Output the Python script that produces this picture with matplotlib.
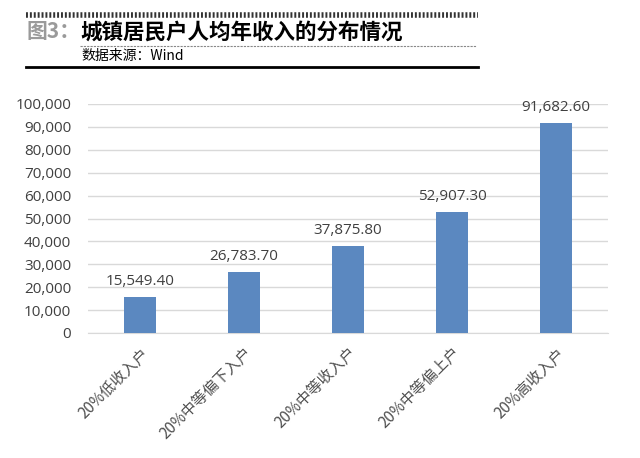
import numpy as np
import matplotlib.pyplot as plt
from matplotlib.lines import Line2D

plt.rcParams['font.family'] = ['Open Sans', 'Noto Sans CJK SC', 'DejaVu Sans']

categories = ['20%低收入户', '20%中等偏下入户', '20%中等收入户', '20%中等偏上户', '20%高收入户']
values = [15549.40, 26783.70, 37875.80, 52907.30, 91682.60]
yticks = [0, 10000, 20000, 30000, 40000, 50000, 60000, 70000, 80000, 90000, 100000]

W, H = 640, 458
fig = plt.figure(figsize=(W / 100, H / 100), dpi=100)
fig.patch.set_facecolor('white')

def fx(px):
    return px / W

def fy(py):
    return 1 - py / H

# header decorations
fig.add_artist(Line2D([fx(26), fx(478)], [fy(15), fy(15)], color='#333333', lw=4,
                      linestyle=(0, (0.35, 0.35))))
fig.add_artist(Line2D([fx(80), fx(476)], [fy(46), fy(46)], color='#888888', lw=0.8,
                      linestyle=(0, (2, 1))))
fig.add_artist(Line2D([fx(26), fx(478)], [fy(67), fy(67)], color='black', lw=2))
fig.text(fx(26), fy(32), '图3：', color='#9a9a9a', fontsize=15, fontweight='heavy',
         va='center', ha='left', family=['Noto Sans CJK SC'])
fig.text(fx(80), fy(32), '城镇居民户人均年收入的分布情况', color='black', fontsize=15.5,
         fontweight='heavy', va='center', ha='left', family=['Noto Sans CJK SC'])
fig.text(fx(81), fy(56), '数据来源：Wind', color='black', fontsize=10,
         va='center', ha='left', family=['Noto Sans CJK SC', 'DejaVu Sans'])

ax = fig.add_axes([fx(88), fy(333), fx(608) - fx(88), fy(104) - fy(333)])
x = np.arange(len(categories))
bars = ax.bar(x, values, width=0.31, color='#5b88c0', zorder=3)
ax.set_xlim(-0.5, len(categories) - 0.5)
ax.set_ylim(0, 100000)
ax.set_yticks(yticks)
ax.set_yticklabels([f'{v:,}' for v in yticks], color='#404040', fontsize=11)
ax.yaxis.grid(True, color='#d9d9d9', lw=1, zorder=0)
ax.tick_params(axis='both', length=0, pad=12)
for s in ['top', 'right', 'left']:
    ax.spines[s].set_visible(False)
ax.spines['bottom'].set_color('#d9d9d9')
ax.set_xticks(x)
ax.set_xticklabels(categories, rotation=45, ha='right', rotation_mode='anchor',
                   fontsize=11, color='#505050', family=['Noto Sans CJK SC'])
ax.tick_params(axis='x', pad=8)

for xi, v in zip(x, values):
    ax.text(xi, v + 3500, f'{v:,.2f}', ha='center', va='bottom', fontsize=11,
            color='#404040', clip_on=False)

fig.savefig('out.png', dpi=100, facecolor='white')
